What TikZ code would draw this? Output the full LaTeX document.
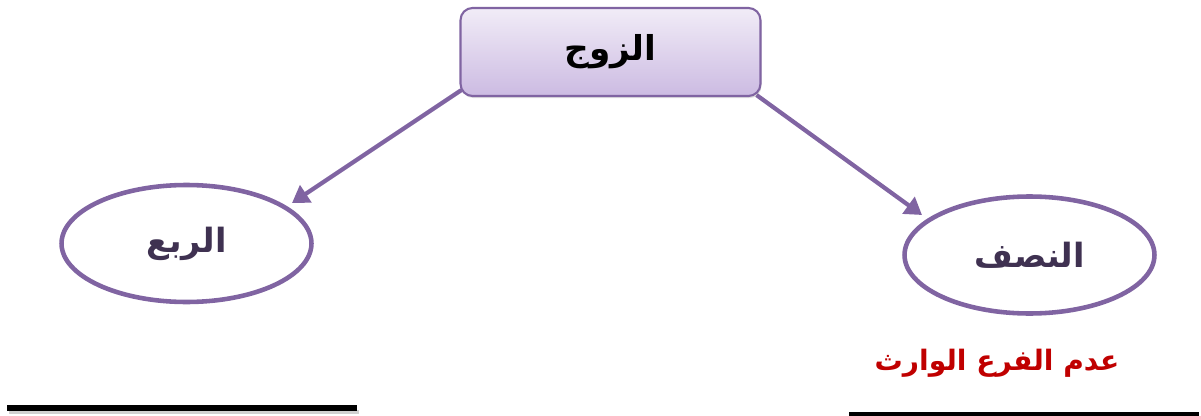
\documentclass[tikz,border=0pt]{standalone}
\usepackage{fontspec}
\usetikzlibrary{arrows.meta,shadows,shapes.geometric}
\newfontfamily\arabicfont[Script=Arabic]{DejaVu Sans}
\TeXXeTstate=1
\definecolor{bord}{HTML}{8064A2}
\definecolor{boxtop}{HTML}{F1ECF7}
\definecolor{boxbot}{HTML}{CCBBE2}
\definecolor{txtpurple}{HTML}{3F3151}
\definecolor{redtxt}{HTML}{C00000}
\pgfdeclarelayer{bg}
\pgfsetlayers{bg,main}
\tikzset{
  topbox/.style={draw=bord, line width=1.2pt, rounded corners=0.24cm,
    top color=boxtop, bottom color=boxbot, minimum width=6.0cm, minimum height=1.76cm,
    inner sep=0pt, font=\arabicfont\bfseries\fontsize{19.5}{22}\selectfont, text=black,
    drop shadow={opacity=0.25, shadow xshift=0.6pt, shadow yshift=-1.2pt}},
  shareellipse/.style={draw=bord, line width=2.6pt, ellipse, fill=white,
    minimum width=5.0cm, minimum height=2.34cm, inner sep=0pt,
    font=\arabicfont\bfseries\fontsize{19}{22}\selectfont, text=txtpurple},
  conn/.style={draw=bord, line width=2.4pt, -{Triangle[length=9.5pt,width=11.5pt]}},
  condtext/.style={font=\arabicfont\bfseries\fontsize{16}{19}\selectfont, text=redtxt, inner sep=0pt},
  baseline rule/.style={fill=black, draw=none}
}
\begin{document}
\begin{tikzpicture}[x=0.02cm, y=-0.02cm]
\useasboundingbox (0,0) rectangle (1201,416);
% nodes
\node[topbox] (zawj) at (610.5,52) {\raisebox{-0.1cm}{\beginR الزوج\endR}};
\node[shareellipse] (rubu) at (186.5,243.5) {\beginR الربع\endR};
\node[shareellipse] (nisf) at (1029.5,255) {\beginR النصف\endR};
\node[condtext] (cond) at (997,363) {\beginR عدم الفرع الوارث\endR};
% arrow ends
\coordinate (tipL) at (292,203);
\coordinate (tipR) at (922,215);
% connectors (behind the box)
\begin{pgfonlayer}{bg}
\draw[conn] (zawj.south west) ++(2,-7) -- (tipL);
\draw[conn] (zawj.south east) ++(-5,-2) -- (tipR);
\end{pgfonlayer}
% rules
\fill[black!18] (9,410) rectangle (359,414);
\fill[baseline rule] (7,405) rectangle (357,411);
\fill[baseline rule] (849,411.5) rectangle (1199,416);
\end{tikzpicture}
\end{document}
